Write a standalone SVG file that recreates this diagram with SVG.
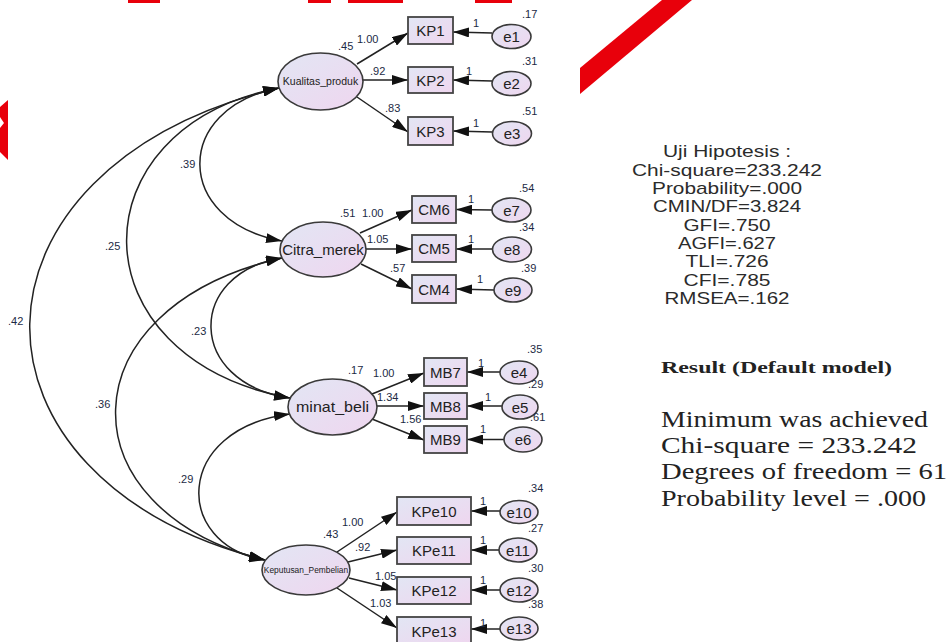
<svg xmlns="http://www.w3.org/2000/svg" width="950" height="642" viewBox="0 0 950 642">
<style>
.lat{stroke:#3a3a3a;stroke-width:1.6;fill:url(#g)}
.box{stroke:#444;stroke-width:1.8;fill:url(#g)}
.err{stroke:#3a3a3a;stroke-width:1.6;fill:url(#g)}
.ln{stroke:#222;stroke-width:1.5;fill:none;marker-end:url(#ah)}
.cov{stroke:#222;stroke-width:1.5;fill:none;marker-end:url(#ah);marker-start:url(#ah)}
.t{font-family:"Liberation Sans",Arial,sans-serif;fill:#222;font-size:15px;text-anchor:middle}
.n{font-family:"Liberation Sans",Arial,sans-serif;fill:#1c2a44;font-size:11px}
.s{font-family:"Liberation Sans",Arial,sans-serif;fill:#2b2b2b;font-size:17px;text-anchor:middle}
.r{font-family:"Liberation Serif","Times New Roman",serif;fill:#222;font-size:23px}
.red{fill:#e8000b}
</style>
<defs>
<linearGradient id="g" x1="0" y1="0" x2="1" y2="1">
<stop offset="0" stop-color="#e2e6f4"/>
<stop offset="1" stop-color="#efd6ef"/>
</linearGradient>
<marker id="ah" viewBox="0 0 16 10" refX="16" refY="5" markerWidth="16" markerHeight="10" markerUnits="userSpaceOnUse" orient="auto-start-reverse">
<path d="M0,0 L16,5 L0,10 z" fill="#111"/>
</marker>
</defs>
<rect width="950" height="642" fill="#fff"/>
<g id="decor">
<rect class="red" x="128" y="0" width="32" height="3"/>
<rect class="red" x="308" y="0" width="23" height="3"/>
<rect class="red" x="348" y="0" width="55" height="3"/>
<rect class="red" x="475" y="0" width="37" height="3"/>
<polygon class="red" points="580,68 662,0 692,0 580,94"/>
<polygon class="red" points="0,107 8,100 8,160 0,152 0,128 4,123 0,117"/>
</g>
<g id="connectors">
<path class="cov" d="M279,88 C173,108 173,221 282,241"/>
<path class="cov" d="M279,88 C74,128 74,358 290,398"/>
<path class="cov" d="M279,88 C-51,168 -51,480 265,560"/>
<path class="cov" d="M282,258 C186,273 186,383 290,398"/>
<path class="cov" d="M282,258 C63,308 63,510 265,560"/>
<path class="cov" d="M290,414 C173,429 173,545 265,560"/>
<line class="ln" x1="357" y1="64" x2="408" y2="33"/>
<line class="ln" x1="363" y1="80" x2="408" y2="80"/>
<line class="ln" x1="357" y1="97" x2="408" y2="132"/>
<line class="ln" x1="360" y1="233" x2="412" y2="210"/>
<line class="ln" x1="366" y1="249" x2="412" y2="249"/>
<line class="ln" x1="361" y1="264" x2="412" y2="289"/>
<line class="ln" x1="372" y1="394" x2="424" y2="373"/>
<line class="ln" x1="377" y1="406" x2="424" y2="406"/>
<line class="ln" x1="372" y1="419" x2="424" y2="440"/>
<line class="ln" x1="337" y1="552" x2="397" y2="512"/>
<line class="ln" x1="348" y1="562" x2="397" y2="550"/>
<line class="ln" x1="349" y1="578" x2="397" y2="590"/>
<line class="ln" x1="337" y1="588" x2="397" y2="628"/>
<line class="ln" x1="492" y1="33" x2="453" y2="32"/>
<line class="ln" x1="492" y1="81" x2="453" y2="80"/>
<line class="ln" x1="492" y1="132" x2="453" y2="131"/>
<line class="ln" x1="492" y1="210" x2="456" y2="209.5"/>
<line class="ln" x1="492" y1="249" x2="456" y2="249"/>
<line class="ln" x1="494" y1="290" x2="456" y2="289"/>
<line class="ln" x1="500" y1="372" x2="467" y2="372"/>
<line class="ln" x1="502" y1="406" x2="467" y2="406"/>
<line class="ln" x1="504" y1="439.5" x2="467" y2="439.5"/>
<line class="ln" x1="500" y1="511" x2="471" y2="511"/>
<line class="ln" x1="499" y1="550" x2="471" y2="550"/>
<line class="ln" x1="500" y1="590" x2="471" y2="590"/>
<line class="ln" x1="500" y1="629" x2="471" y2="629"/>
<text class="n" x="180" y="168">.39</text>
<text class="n" x="105" y="250">.25</text>
<text class="n" x="8" y="325">.42</text>
<text class="n" x="191" y="335">.23</text>
<text class="n" x="95" y="408">.36</text>
<text class="n" x="178" y="483">.29</text>
<text class="n" x="357" y="43">1.00</text>
<text class="n" x="370" y="75">.92</text>
<text class="n" x="385" y="112">.83</text>
<text class="n" x="473" y="27">1</text>
<text class="n" x="466" y="75">1</text>
<text class="n" x="473" y="127">1</text>
<text class="n" x="362" y="217">1.00</text>
<text class="n" x="367" y="243">1.05</text>
<text class="n" x="390" y="272">.57</text>
<text class="n" x="468" y="203">1</text>
<text class="n" x="468" y="243">1</text>
<text class="n" x="477" y="283">1</text>
<text class="n" x="373" y="377">1.00</text>
<text class="n" x="377" y="401">1.34</text>
<text class="n" x="400" y="423">1.56</text>
<text class="n" x="478" y="367">1</text>
<text class="n" x="485" y="401">1</text>
<text class="n" x="480" y="433">1</text>
<text class="n" x="342" y="526">1.00</text>
<text class="n" x="355" y="551">.92</text>
<text class="n" x="375" y="580">1.05</text>
<text class="n" x="370" y="607">1.03</text>
<text class="n" x="480" y="505">1</text>
<text class="n" x="480" y="544">1</text>
<text class="n" x="480" y="584">1</text>
<text class="n" x="480" y="627">1</text>
</g>
<g id="Kualitas_produk">
<ellipse class="lat" cx="320.5" cy="81.5" rx="42.5" ry="28.5"/>
<text class="t" x="320.5" y="85" style="font-size:10.5px">Kualitas_produk</text>
<text class="n" x="338" y="50">.45</text>
</g>
<g id="Citra_merek">
<ellipse class="lat" cx="323" cy="249.5" rx="43" ry="27.5"/>
<text class="t" x="323" y="255">Citra_merek</text>
<text class="n" x="340" y="217">.51</text>
</g>
<g id="minat_beli">
<ellipse class="lat" cx="332.5" cy="407" rx="44.5" ry="28"/>
<text class="t" x="332.5" y="412" textLength="73" lengthAdjust="spacingAndGlyphs">minat_beli</text>
<text class="n" x="348" y="374">.17</text>
</g>
<g id="Keputusan_Pembelian">
<ellipse class="lat" cx="306" cy="570" rx="44" ry="25"/>
<text class="t" x="306" y="573" style="font-size:8.4px">Keputusan_Pembelian</text>
<text class="n" x="323" y="538">.43</text>
</g>
<g id="KP1"><rect class="box" x="408" y="17" width="45" height="27"/><text class="t" x="430.5" y="36">KP1</text></g>
<g id="KP2"><rect class="box" x="408" y="67" width="45" height="26"/><text class="t" x="430.5" y="85.5">KP2</text></g>
<g id="KP3"><rect class="box" x="408" y="117" width="45" height="28"/><text class="t" x="430.5" y="136.5">KP3</text></g>
<g id="CM6"><rect class="box" x="412" y="196" width="44" height="27"/><text class="t" x="434" y="215">CM6</text></g>
<g id="CM5"><rect class="box" x="412" y="235" width="44" height="27"/><text class="t" x="434" y="254">CM5</text></g>
<g id="CM4"><rect class="box" x="412" y="275" width="44" height="28"/><text class="t" x="434" y="294.5">CM4</text></g>
<g id="MB7"><rect class="box" x="424" y="358" width="43" height="28"/><text class="t" x="445.5" y="377.5">MB7</text></g>
<g id="MB8"><rect class="box" x="424" y="393" width="43" height="26"/><text class="t" x="445.5" y="411.5">MB8</text></g>
<g id="MB9"><rect class="box" x="424" y="426" width="43" height="27"/><text class="t" x="445.5" y="445">MB9</text></g>
<g id="KPe10"><rect class="box" x="397" y="497" width="74" height="28"/><text class="t" x="434" y="516.5">KPe10</text></g>
<g id="KPe11"><rect class="box" x="397" y="537" width="74" height="27"/><text class="t" x="434" y="556">KPe11</text></g>
<g id="KPe12"><rect class="box" x="397" y="577" width="74" height="27"/><text class="t" x="434" y="596">KPe12</text></g>
<g id="KPe13"><rect class="box" x="397" y="617" width="74" height="28"/><text class="t" x="434" y="636.5">KPe13</text></g>
<g id="e1"><ellipse class="err" cx="511.5" cy="36.5" rx="19.5" ry="12"/><text class="t" x="511.5" y="42">e1</text><text class="n" x="522" y="18">.17</text></g>
<g id="e2"><ellipse class="err" cx="511.5" cy="83.5" rx="19.5" ry="12"/><text class="t" x="511.5" y="89">e2</text><text class="n" x="522" y="65">.31</text></g>
<g id="e3"><ellipse class="err" cx="512" cy="133.5" rx="19.5" ry="12"/><text class="t" x="512" y="139">e3</text><text class="n" x="522" y="115">.51</text></g>
<g id="e7"><ellipse class="err" cx="511.5" cy="210" rx="19.5" ry="12"/><text class="t" x="511.5" y="215.5">e7</text><text class="n" x="519" y="192">.54</text></g>
<g id="e8"><ellipse class="err" cx="512" cy="249.5" rx="19.5" ry="12.5"/><text class="t" x="512" y="255">e8</text><text class="n" x="519" y="231">.34</text></g>
<g id="e9"><ellipse class="err" cx="513" cy="290" rx="19" ry="12"/><text class="t" x="513" y="295.5">e9</text><text class="n" x="521" y="272">.39</text></g>
<g id="e4"><ellipse class="err" cx="519" cy="372.5" rx="19" ry="11.5"/><text class="t" x="519" y="378">e4</text><text class="n" x="527" y="353">.35</text></g>
<g id="e5"><ellipse class="err" cx="520" cy="407" rx="18" ry="12"/><text class="t" x="520" y="412.5">e5</text><text class="n" x="528" y="388">.29</text></g>
<g id="e6"><ellipse class="err" cx="523" cy="439.5" rx="19" ry="12.5"/><text class="t" x="523" y="445">e6</text><text class="n" x="530" y="421">.61</text></g>
<g id="e10"><ellipse class="err" cx="519" cy="512" rx="19" ry="11.5"/><text class="t" x="519" y="517.5">e10</text><text class="n" x="528" y="492">.34</text></g>
<g id="e11"><ellipse class="err" cx="518" cy="550" rx="19" ry="12"/><text class="t" x="518" y="555.5">e11</text><text class="n" x="528" y="532">.27</text></g>
<g id="e12"><ellipse class="err" cx="519" cy="590" rx="19" ry="12"/><text class="t" x="519" y="595.5">e12</text><text class="n" x="528" y="572">.30</text></g>
<g id="e13"><ellipse class="err" cx="519" cy="628.5" rx="19" ry="11.5"/><text class="t" x="519" y="634">e13</text><text class="n" x="528" y="608">.38</text></g>
<g id="fit">
<text class="s" x="727" y="157" textLength="128" lengthAdjust="spacingAndGlyphs">Uji Hipotesis :</text>
<text class="s" x="727" y="175.5" textLength="190" lengthAdjust="spacingAndGlyphs">Chi-square=233.242</text>
<text class="s" x="727" y="194" textLength="150" lengthAdjust="spacingAndGlyphs">Probability=.000</text>
<text class="s" x="727" y="212" textLength="148" lengthAdjust="spacingAndGlyphs">CMIN/DF=3.824</text>
<text class="s" x="727" y="230.5" textLength="87" lengthAdjust="spacingAndGlyphs">GFI=.750</text>
<text class="s" x="727" y="249" textLength="98" lengthAdjust="spacingAndGlyphs">AGFI=.627</text>
<text class="s" x="727" y="267" textLength="83" lengthAdjust="spacingAndGlyphs">TLI=.726</text>
<text class="s" x="727" y="285.5" textLength="87" lengthAdjust="spacingAndGlyphs">CFI=.785</text>
<text class="s" x="727" y="304" textLength="125" lengthAdjust="spacingAndGlyphs">RMSEA=.162</text>
</g>
<g id="result">
<text class="r" x="661" y="373" style="font-size:17px;font-weight:bold" textLength="231" lengthAdjust="spacingAndGlyphs">Result (Default model)</text>
<text class="r" x="661" y="427" textLength="267" lengthAdjust="spacingAndGlyphs">Minimum was achieved</text>
<text class="r" x="661" y="453" textLength="256" lengthAdjust="spacingAndGlyphs">Chi-square = 233.242</text>
<text class="r" x="661" y="479" textLength="286" lengthAdjust="spacingAndGlyphs">Degrees of freedom = 61</text>
<text class="r" x="661" y="506" textLength="265" lengthAdjust="spacingAndGlyphs">Probability level = .000</text>
</g>
</svg>
